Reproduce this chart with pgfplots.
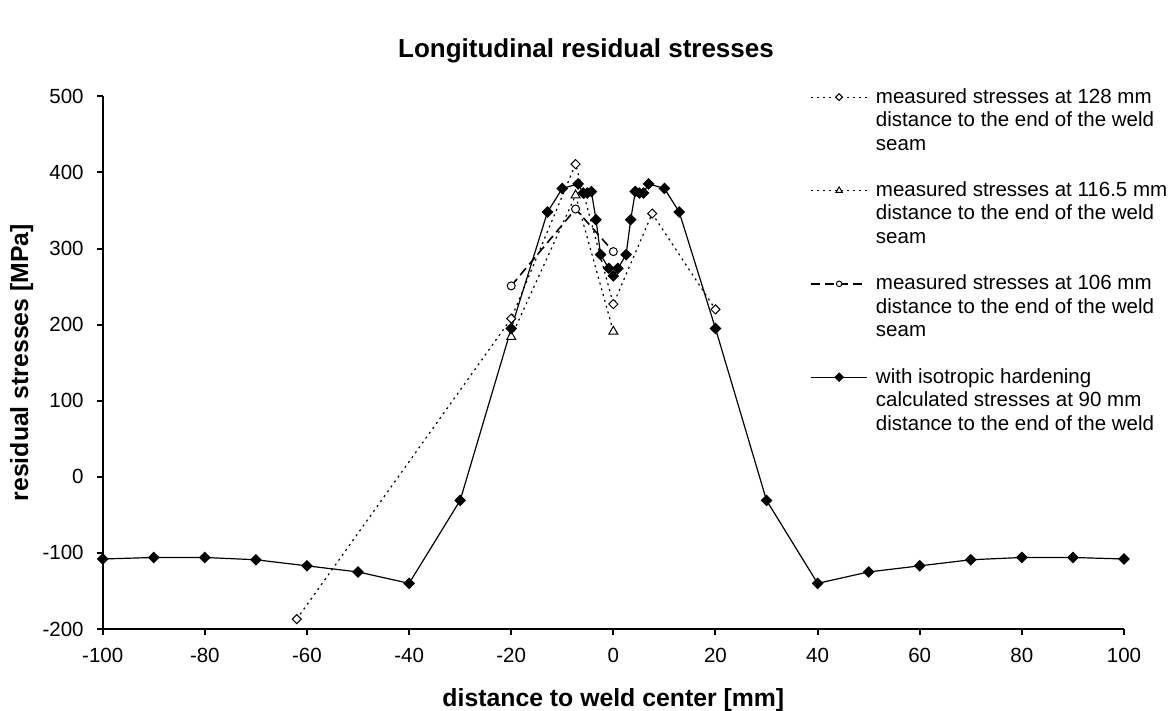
\documentclass[border=0pt]{standalone}
\usepackage{fontspec}
\setmainfont{Liberation Sans}
\usepackage{pgfplots}
\pgfplotsset{compat=1.18}
\begin{document}
\begin{tikzpicture}
\path[use as bounding box] (-51.35pt,-41pt) rectangle (535.15pt,314.5pt);
\begin{axis}[
  scale only axis, width=510.65pt, height=266.3pt,
  xmin=-100, xmax=100, ymin=-200, ymax=500,
  axis x line*=bottom, axis y line*=left,
  axis line style={line width=1pt, -},
  tick align=outside, major tick length=3pt,
  tick style={line width=1pt, black},
  xtick={-100,-80,...,100}, ytick={-200,-100,...,500},
  xticklabels={-100,-80,-60,-40,-20,0,20,40,60,80,100},
  yticklabels={-200,-100,0,100,200,300,400,500},
  ticklabel style={font=\fontsize{10.25}{12}\selectfont},
  yticklabel style={xshift=-3pt},
  xticklabel style={yshift=-3pt},
  xlabel={distance to weld center [mm]},
  ylabel={residual stresses [MPa]},
  label style={font=\bfseries\fontsize{12.4}{14}\selectfont},
  xlabel style={at={(axis description cs:0.5,-0.145)}, anchor=base},
  ylabel style={at={(axis description cs:-0.0731,0.5)}, anchor=base},
  title={Longitudinal residual stresses},
  title style={at={(axis description cs:0.4732,1.0514)}, anchor=base, yshift=0pt, font=\bfseries\fontsize{13}{15}\selectfont},
  legend image code/.code={\draw[mark repeat=2,mark phase=2,#1] plot coordinates {(0pt,3pt) (14pt,3pt) (28pt,3pt)};},
  legend style={at={(axis description cs:0.6925,1.019)}, anchor=north west, draw=none, fill=none, inner sep=0pt, row sep=36.95pt, column sep=4pt, cells={anchor=base west}, nodes={inner sep=0pt}, font=\fontsize{10.25}{11.75}\selectfont},
]
\addplot[black, line width=0.6pt, dash pattern=on 1pt off 2pt, mark=square*, mark size=1.6pt, mark options={solid, rotate=45, fill=white, line width=0.5pt}, legend image post style={mark size=1.2pt}]
coordinates {(-62,-187) (-20,208) (-7.4,411) (0,227) (7.6,346) (20,220)};
\addlegendentry{\parbox[t]{150pt}{\strut measured stresses at 128 mm\\distance to the end of the weld\\seam\strut}}
\addplot[black, line width=0.6pt, dash pattern=on 1pt off 2pt, mark=triangle*, mark size=2.6pt, mark options={solid, fill=white, line width=0.5pt}, legend image post style={mark size=1.8pt}]
coordinates {(-20,184) (-7.4,370) (0,191)};
\addlegendentry{\parbox[t]{150pt}{\strut measured stresses at 116.5 mm\\distance to the end of the weld\\seam\strut}}
\addplot[black, line width=0.8pt, dash pattern=on 4.5pt off 2.5pt, mark=*, mark size=2pt, mark options={solid, fill=white, line width=0.5pt}, legend image post style={mark size=1.4pt}]
coordinates {(-20,251) (-7.4,352) (0,296)};
\addlegendentry{\parbox[t]{150pt}{\strut measured stresses at 106 mm\\distance to the end of the weld\\seam\strut}}
\addplot[black, line width=0.6pt, solid, mark=square*, mark size=1.77pt, mark options={rotate=45, fill=black}, legend image post style={mark size=1.4pt}]
coordinates {(-100,-108) (-90,-106) (-80,-106) (-70,-109) (-60,-117) (-50,-125) (-40,-140) (-30,-31) (-20,195) (-12.9,348) (-10,379) (-6.9,385) (-5.9,373) (-5.1,373) (-4.3,375) (-3.4,338) (-2.5,292) (-0.9,274) (0,264) (0.9,274) (2.5,292) (3.4,338) (4.3,375) (5.1,373) (5.9,373) (6.9,385) (10,379) (12.9,348) (20,195) (30,-31) (40,-140) (50,-125) (60,-117) (70,-109) (80,-106) (90,-106) (100,-108)};
\addlegendentry{\parbox[t]{150pt}{\strut with isotropic hardening\\calculated stresses at 90 mm\\distance to the end of the weld\strut}}
\end{axis}
\end{tikzpicture}
\end{document}
